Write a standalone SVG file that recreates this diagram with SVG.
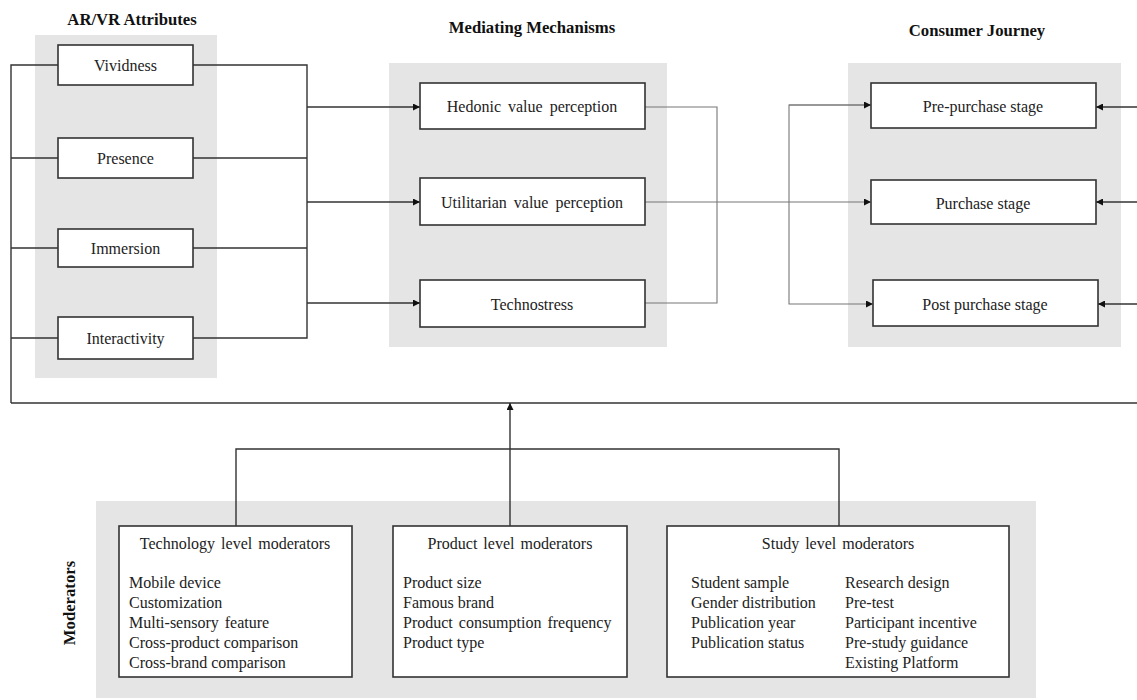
<svg xmlns="http://www.w3.org/2000/svg" width="1137" height="700" viewBox="0 0 1137 700">
<style>
.panel{fill:#e5e5e5}
.box{fill:#fff;stroke:#333;stroke-width:1.6}
.t{font-family:"Liberation Serif","Times New Roman",serif;font-size:16px;fill:#222}
.c{text-anchor:middle}
.h{font-family:"Liberation Serif","Times New Roman",serif;font-size:16.7px;font-weight:bold;fill:#111;text-anchor:middle}
.ln{fill:none;stroke:#333;stroke-width:1.4}
.thin{fill:none;stroke:#777;stroke-width:1.1}
</style>
<defs>
<marker id="arr" viewBox="0 0 10 10" refX="10" refY="5" markerWidth="9" markerHeight="7" orient="auto" markerUnits="userSpaceOnUse"><path d="M0,0 L10,5 L0,10 z" fill="#111"/></marker>
</defs>
<rect width="1137" height="700" fill="#fff"/>
<g id="panels">
<rect class="panel" x="35" y="35" width="182" height="343"/>
<rect class="panel" x="389" y="63" width="278" height="284"/>
<rect class="panel" x="848" y="63" width="273" height="284"/>
<rect class="panel" x="96" y="501" width="940" height="197"/>
</g>
<g id="titles">
<text class="h" x="132" y="25">AR/VR Attributes</text>
<text class="h" x="532" y="33">Mediating Mechanisms</text>
<text class="h" x="977" y="36">Consumer Journey</text>
<text class="h" transform="translate(75,603) rotate(-90)">Moderators</text>
</g>
<g id="connectors">
<path class="ln" d="M11,403 V65 H58 M11,158 H58 M11,248 H58 M11,338 H58"/>
<path class="ln" d="M193,65 H307 V338 H193 M193,158 H307 M193,248 H307"/>
<path class="ln" d="M307,107 H420" marker-end="url(#arr)"/>
<path class="ln" d="M307,202 H420" marker-end="url(#arr)"/>
<path class="ln" d="M307,303 H420" marker-end="url(#arr)"/>
<path class="thin" d="M645,107 H717 V303 H645 M645,202 H717"/>
<path class="thin" d="M717,202 H871" marker-end="url(#arr)"/>
<path class="thin" d="M871,105 H789 V304 H873" marker-end="url(#arr)"/>
<path class="thin" d="M789,105 H871" marker-end="url(#arr)"/>
<path class="ln" d="M1137,107 H1096" marker-end="url(#arr)"/>
<path class="ln" d="M1137,202 H1096" marker-end="url(#arr)"/>
<path class="ln" d="M1137,304 H1098" marker-end="url(#arr)"/>
<path class="ln" d="M11,403 H1137"/>
<path class="ln" d="M236,526 V449 H839 V526"/>
<path class="ln" d="M510,526 V403" marker-end="url(#arr)"/>
</g>
<g id="vividness"><rect class="box" x="58" y="45" width="135" height="40"/><text class="t c" x="125.5" y="71">Vividness</text></g>
<g id="presence"><rect class="box" x="58" y="138" width="135" height="40"/><text class="t c" x="125.5" y="164">Presence</text></g>
<g id="immersion"><rect class="box" x="58" y="229" width="135" height="38"/><text class="t c" x="125.5" y="254">Immersion</text></g>
<g id="interactivity"><rect class="box" x="58" y="317" width="135" height="42"/><text class="t c" x="125.5" y="344">Interactivity</text></g>
<g id="hedonic"><rect class="box" x="420" y="83" width="225" height="46"/><text class="t c" x="532" y="112" word-spacing="3">Hedonic value perception</text></g>
<g id="utilitarian"><rect class="box" x="420" y="178" width="225" height="47"/><text class="t c" x="532" y="208" word-spacing="3">Utilitarian value perception</text></g>
<g id="technostress"><rect class="box" x="420" y="280" width="225" height="47"/><text class="t c" x="532" y="310">Technostress</text></g>
<g id="prepurchase"><rect class="box" x="871" y="83" width="225" height="45"/><text class="t c" x="983" y="112">Pre-purchase stage</text></g>
<g id="purchase"><rect class="box" x="871" y="180" width="225" height="44"/><text class="t c" x="983" y="209">Purchase stage</text></g>
<g id="postpurchase"><rect class="box" x="873" y="280" width="225" height="46"/><text class="t c" x="985" y="310">Post purchase stage</text></g>
<g id="tech-moderators"><rect class="box" x="119" y="526" width="233" height="151"/>
<text class="t c" x="235" y="549" word-spacing="2">Technology level moderators</text>
<text class="t" x="129" y="588">Mobile device</text>
<text class="t" x="129" y="608">Customization</text>
<text class="t" x="129" y="628" word-spacing="2">Multi-sensory feature</text>
<text class="t" x="129" y="648">Cross-product comparison</text>
<text class="t" x="129" y="668">Cross-brand comparison</text>
</g>
<g id="product-moderators"><rect class="box" x="393" y="526" width="234" height="151"/>
<text class="t c" x="510" y="549" word-spacing="2">Product level moderators</text>
<text class="t" x="403" y="588">Product size</text>
<text class="t" x="403" y="608">Famous brand</text>
<text class="t" x="403" y="628" word-spacing="2">Product consumption frequency</text>
<text class="t" x="403" y="648">Product type</text>
</g>
<g id="study-moderators"><rect class="box" x="667" y="526" width="342" height="151"/>
<text class="t c" x="838" y="549" word-spacing="2">Study level moderators</text>
<text class="t" x="691" y="588">Student sample</text>
<text class="t" x="691" y="608">Gender distribution</text>
<text class="t" x="691" y="628">Publication year</text>
<text class="t" x="691" y="648">Publication status</text>
<text class="t" x="845" y="588">Research design</text>
<text class="t" x="845" y="608">Pre-test</text>
<text class="t" x="845" y="628">Participant incentive</text>
<text class="t" x="845" y="648">Pre-study guidance</text>
<text class="t" x="845" y="668">Existing Platform</text>
</g>
</svg>
